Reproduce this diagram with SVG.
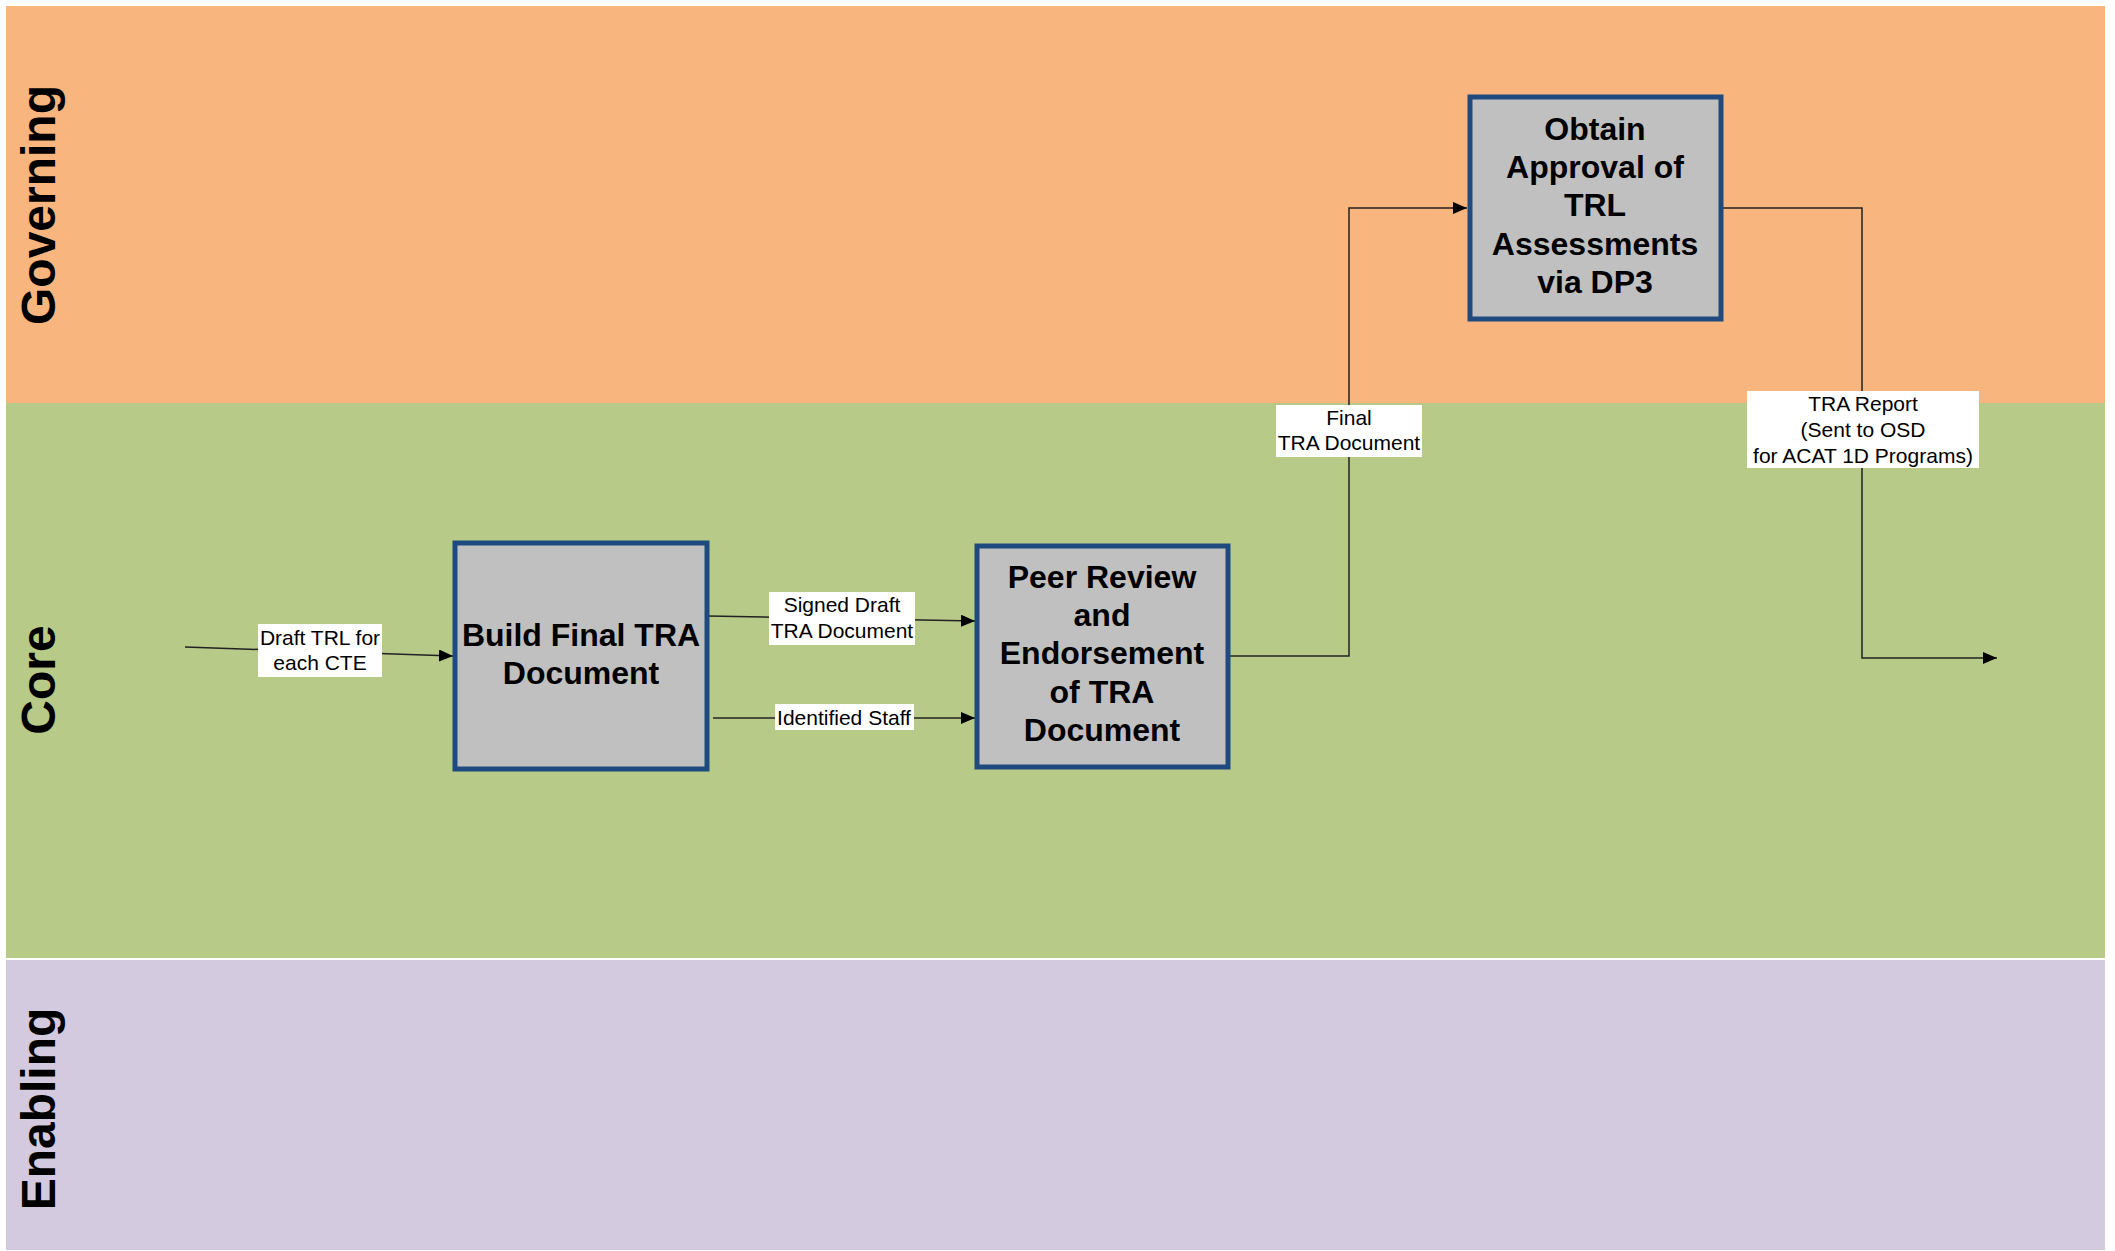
<svg xmlns="http://www.w3.org/2000/svg" width="2115" height="1251" viewBox="0 0 2115 1251">
<defs>
<style>
.lane-label{font-family:"Liberation Sans",Arial,sans-serif;font-weight:bold;font-size:48px;fill:#000;text-anchor:middle}
.box{fill:#C0C0C0;stroke:#1F4A80;stroke-width:5}
.box-text{font-family:"Liberation Sans",Arial,sans-serif;font-weight:bold;font-size:32px;fill:#000;text-anchor:middle}
.conn{fill:none;stroke:#222;stroke-width:1.5}
.lbl-bg{fill:#FFFFFF}
.lbl{font-family:"Liberation Sans",Arial,sans-serif;font-size:21px;fill:#000;text-anchor:middle}
</style>
<marker id="arrow" viewBox="0 0 14 12" refX="14" refY="6" markerWidth="14" markerHeight="12" markerUnits="userSpaceOnUse" orient="auto">
<path d="M0,0 L14,6 L0,12 Z" fill="#000"/>
</marker>
</defs>
<rect x="0" y="0" width="2115" height="1251" fill="#FFFFFF"/>
<g id="lane-governing">
<rect x="6" y="6" width="2099" height="397" fill="#F8B57E"/>
<text class="lane-label" transform="translate(55,205) rotate(-90)">Governing</text>
</g>
<g id="lane-core">
<rect x="6" y="403" width="2099" height="555" fill="#B7CA87"/>
<text class="lane-label" transform="translate(55,680) rotate(-90)">Core</text>
</g>
<g id="lane-enabling">
<rect x="6" y="960" width="2099" height="290" fill="#D3CADF"/>
<text class="lane-label" transform="translate(55,1109) rotate(-90)">Enabling</text>
</g>
<g id="connectors">
<line class="conn" x1="185" y1="647" x2="453" y2="656" marker-end="url(#arrow)"/>
<line class="conn" x1="708" y1="616" x2="975" y2="621" marker-end="url(#arrow)"/>
<line class="conn" x1="713" y1="718" x2="975" y2="718" marker-end="url(#arrow)"/>
<polyline class="conn" points="1230,656 1349,656 1349,208 1467,208" marker-end="url(#arrow)"/>
<polyline class="conn" points="1723,208 1862,208 1862,658 1997,658" marker-end="url(#arrow)"/>
<g id="label-draft-trl">
<rect class="lbl-bg" x="258" y="624" width="124" height="53"/>
<text class="lbl" x="320" y="645">Draft TRL for</text>
<text class="lbl" x="320" y="670">each CTE</text>
</g>
<g id="label-signed-draft">
<rect class="lbl-bg" x="769" y="592" width="146" height="53"/>
<text class="lbl" x="842" y="612">Signed Draft</text>
<text class="lbl" x="842" y="638">TRA Document</text>
</g>
<g id="label-identified-staff">
<rect class="lbl-bg" x="775" y="704" width="139" height="26"/>
<text class="lbl" x="844" y="725">Identified Staff</text>
</g>
<g id="label-final-tra">
<rect class="lbl-bg" x="1276" y="405" width="146" height="52"/>
<text class="lbl" x="1349" y="425">Final</text>
<text class="lbl" x="1349" y="450">TRA Document</text>
</g>
<g id="label-tra-report">
<rect class="lbl-bg" x="1747" y="391" width="232" height="77"/>
<text class="lbl" x="1863" y="411">TRA Report</text>
<text class="lbl" x="1863" y="437">(Sent to OSD</text>
<text class="lbl" x="1863" y="463">for ACAT 1D Programs)</text>
</g>
</g>
<g id="node-build">
<rect class="box" x="455" y="543" width="252" height="226"/>
<text class="box-text" x="581" y="646">Build Final TRA</text>
<text class="box-text" x="581" y="684">Document</text>
</g>
<g id="node-peer">
<rect class="box" x="977" y="546" width="251" height="221"/>
<text class="box-text" x="1102" y="588">Peer Review</text>
<text class="box-text" x="1102" y="626">and</text>
<text class="box-text" x="1102" y="664">Endorsement</text>
<text class="box-text" x="1102" y="703">of TRA</text>
<text class="box-text" x="1102" y="741">Document</text>
</g>
<g id="node-obtain">
<rect class="box" x="1470" y="97" width="251" height="222"/>
<text class="box-text" x="1595" y="140">Obtain</text>
<text class="box-text" x="1595" y="178">Approval of</text>
<text class="box-text" x="1595" y="216">TRL</text>
<text class="box-text" x="1595" y="255">Assessments</text>
<text class="box-text" x="1595" y="293">via DP3</text>
</g>
</svg>
